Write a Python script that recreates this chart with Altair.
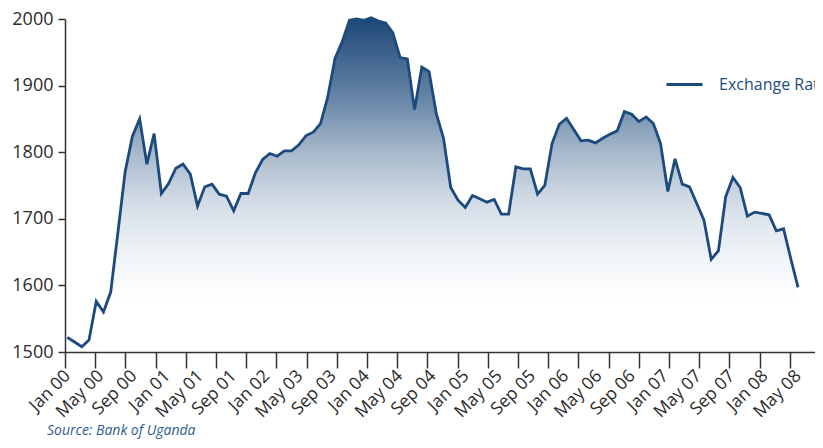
import altair as alt
import pandas as pd

# ---- data ----
LABELS = ["Jan 00", "May 00", "Sep 00", "Jan 01", "May 01", "Sep 01", "Jan 02",
          "May 03", "Sep 03", "Jan 04", "May 04", "Sep 04", "Jan 05", "May 05",
          "Sep 05", "Jan 06", "May 06", "Sep 06", "Jan 07", "May 07", "Sep 07",
          "Jan 08", "May 08"]

RATE = [1522, 1515, 1508, 1518, 1576, 1560, 1590, 1680, 1771, 1824,
        1850, 1782, 1828, 1738, 1753, 1776, 1782, 1767, 1719, 1748,
        1752, 1737, 1734, 1712, 1738, 1738, 1769, 1789, 1798, 1794,
        1802, 1802, 1811, 1825, 1830, 1843, 1883, 1941, 1966, 1998,
        2000, 1998, 2002, 1997, 1994, 1979, 1942, 1940, 1864, 1928,
        1921, 1858, 1821, 1747, 1728, 1717, 1735, 1730, 1725, 1729,
        1707, 1707, 1778, 1775, 1775, 1737, 1750, 1813, 1842, 1851,
        1834, 1817, 1818, 1814, 1821, 1827, 1832, 1861, 1857, 1846,
        1853, 1843, 1813, 1741, 1790, 1752, 1748, 1723, 1698, 1639,
        1652, 1733, 1762, 1747, 1704, 1710, 1708, 1706, 1682, 1685,
        1640, 1597]

SERIES = "Exchange Rate"
SOURCE = "Source: Bank of Uganda"
Y_TICKS = [1500, 1600, 1700, 1800, 1900, 2000]
Y_DOMAIN = [1500, 2000]

# ---- layout ----
n = len(RATE)
nl = len(LABELS)
W, H = 750, 333
STEP = 7.235                     # px per month
X0 = -2.3 / STEP                 # small gap before first point
XMAX = X0 + W / STEP
label_pos = [i * (n - 1) / (nl - 1) for i in range(nl)]
TICK_STEP = 30.2 / STEP
tick_pos = []
k = 0
while X0 + k * TICK_STEP <= XMAX:
    tick_pos.append(X0 + k * TICK_STEP)
    k += 1

IS_LABEL = "abs(datum.value*%d/%d - round(datum.value*%d/%d)) < 0.001" % (nl - 1, n - 1, nl - 1, n - 1)
label_expr = ("(%s) ? [" % IS_LABEL + ",".join("'%s'" % s for s in LABELS) + "]"
              + "[round(datum.value*%d/%d)] : ''" % (nl - 1, n - 1))

df = pd.DataFrame({"t": list(range(n)), "rate": RATE, "series": [SERIES] * n})

NAVY = "#1c4a7c"
FONT = "Open Sans"

xscale = alt.Scale(domain=[X0, XMAX], nice=False, zero=False)
yscale = alt.Scale(domain=Y_DOMAIN, nice=False, zero=False)

xaxis = alt.Axis(values=sorted(label_pos + tick_pos), labelExpr=label_expr,
                 ticks=True, tickSize=16, tickWidth=1.5, tickColor="#333333",
                 tickOpacity={"condition": {"test": IS_LABEL, "value": 0}, "value": 1},
                 domain=True, domainColor="#333333", domainWidth=1.5,
                 grid=False, title=None, orient="bottom",
                 labelAngle=-45, labelAlign="right", labelBaseline="middle",
                 labelPadding=5, labelFont=FONT, labelFontSize=17.5,
                 labelColor="#2b2b2b", labelFlush=False, labelOverlap=False,
                 labelBound=False, zindex=1)

yaxis = alt.Axis(values=Y_TICKS, tickSize=7, tickWidth=1.5, tickColor="#333333",
                 domainColor="#333333", domainWidth=1.5, grid=False, title=None,
                 labelFont=FONT, labelFontSize=18, labelColor="#2b2b2b",
                 labelPadding=5, format="d")

gradient = alt.Gradient(
    gradient="linear", x1=0, x2=0, y1=0, y2=1,
    stops=[alt.GradientStop(offset=0.0, color="#1c4676"),
           alt.GradientStop(offset=0.25, color="#6a88a9"),
           alt.GradientStop(offset=0.4, color="#a6b8cb"),
           alt.GradientStop(offset=0.55, color="#d3dce6"),
           alt.GradientStop(offset=0.7, color="#eef2f6"),
           alt.GradientStop(offset=0.85, color="#ffffff"),
           alt.GradientStop(offset=1.0, color="#ffffff")])

area = alt.Chart(df).mark_area(fill=gradient, line=False).encode(
    x=alt.X("t:Q", scale=xscale, axis=xaxis),
    y=alt.Y("rate:Q", scale=yscale, axis=yaxis),
    y2=alt.datum(Y_DOMAIN[0]),
)

line = alt.Chart(df).mark_line(strokeWidth=2.8).encode(
    x=alt.X("t:Q", scale=xscale, axis=xaxis),
    y=alt.Y("rate:Q", scale=yscale, axis=yaxis),
    color=alt.Color("series:N", scale=alt.Scale(range=[NAVY]),
                    legend=alt.Legend(orient="none", legendX=600, legendY=46,
                                      title=None, symbolType="stroke",
                                      symbolSize=1296, symbolStrokeWidth=3,
                                      labelFont=FONT, labelFontSize=16,
                                      labelColor="#1f4e80", labelOffset=15,
                                      padding=0)),
)

chart = alt.layer(area, line).properties(
    width=W, height=H,
    autosize=alt.AutoSizeParams(type="none"),
    padding={"left": 57, "top": 11, "right": 0, "bottom": 88},
    title=alt.TitleParams(SOURCE, orient="bottom", anchor="start", frame="group",
                          dx=-18, offset=3, fontSize=14, font=FONT,
                          fontStyle="italic", fontWeight="normal", color="#2e5d8e"),
).configure_view(stroke=None)

chart.save("out.html", embed_options={"renderer": "svg", "actions": False})
